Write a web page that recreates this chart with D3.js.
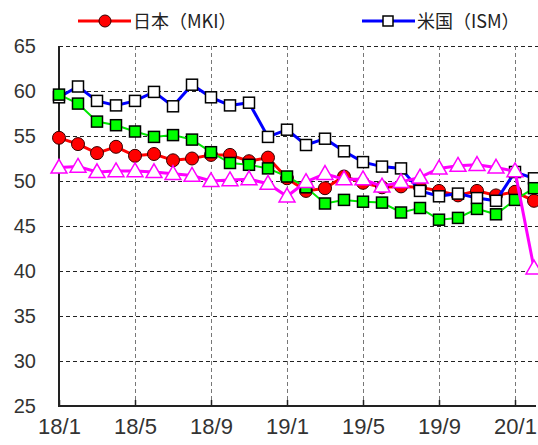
<!DOCTYPE html>
<html>
<head>
<meta charset="utf-8">
<script src="https://cdn.jsdelivr.net/npm/d3@7"></script>
<style>
  body { margin: 0; background: #fff; overflow: hidden; }
</style>
</head>
<body>
<div id="canvas"></div>
<script>
"use strict"

/* Data: monthly manufacturing PMI, 2018/1 - 2020/2 */
let months = ["18/1","18/2","18/3","18/4","18/5","18/6","18/7","18/8","18/9","18/10","18/11","18/12",
              "19/1","19/2","19/3","19/4","19/5","19/6","19/7","19/8","19/9","19/10","19/11","19/12",
              "20/1","20/2"];
let japan = [54.8,54.1,53.1,53.8,52.8,53.0,52.3,52.5,52.9,52.9,52.2,52.6,
             50.3,48.9,49.2,50.5,49.8,49.3,49.4,49.3,48.9,48.4,48.9,48.4,48.8,47.8];
let usa = [59.3,60.5,58.9,58.4,58.9,59.9,58.3,60.7,59.3,58.4,58.7,54.9,
           55.7,54.0,54.7,53.3,52.1,51.6,51.4,48.9,48.3,48.6,48.1,47.8,51.0,50.3];
let euro = [59.6,58.6,56.6,56.2,55.5,54.9,55.1,54.6,53.2,52.0,51.8,51.4,
            50.5,49.3,47.5,47.9,47.7,47.6,46.5,47.0,45.7,45.9,46.9,46.3,47.9,49.2];
let china = [51.5,51.6,51.0,51.1,51.1,51.0,50.8,50.6,50.0,50.1,50.2,49.7,
             48.3,49.9,50.8,50.2,50.2,49.4,49.9,50.4,51.4,51.7,51.8,51.5,51.1,40.3];
let xTickLabels = ["18/1","18/5","18/9","19/1","19/5","19/9","20/1"];
let yTicks = [25,30,35,40,45,50,55,60,65];
let legendNames = ["日本（MKI）", "米国（ISM）"];

/* Configuration variables: drawing */
let svgWidth = 538;
let svgHeight = 445;
let plot = { left: 59, right: 540, top: 46, bottom: 406 };

let svg = d3.select("#canvas")
    .append("svg")
    .attr("width", svgWidth)
    .attr("height", svgHeight);

svg.append("rect")
    .attr("width", svgWidth)
    .attr("height", svgHeight)
    .attr("fill", "white");

// scales: one step of 19px per month
let xScale = d3.scaleLinear()
    .domain([0, 25])
    .range([59, 534]);
let yScale = d3.scaleLinear()
    .domain([25, 65])
    .range([plot.bottom, plot.top]);

/* Gridlines */
// horizontal (30..65), black dashes
svg.append("g")
    .selectAll("line")
    .data(yTicks.filter(function(d) { return d > 25; }))
    .join("line")
    .attr("x1", plot.left)
    .attr("x2", plot.right)
    .attr("y1", function(d) { return yScale(d) + 0.5; })
    .attr("y2", function(d) { return yScale(d) + 0.5; })
    .attr("stroke", "#222")
    .attr("stroke-width", 1)
    .attr("stroke-dasharray", "4,3");

// vertical, grey dashes
svg.append("g")
    .selectAll("line")
    .data(xTickLabels.slice(1))
    .join("line")
    .attr("x1", function(d) { return xScale(months.indexOf(d)) + 0.5; })
    .attr("x2", function(d) { return xScale(months.indexOf(d)) + 0.5; })
    .attr("y1", plot.top)
    .attr("y2", plot.bottom)
    .attr("stroke", "#777")
    .attr("stroke-width", 1)
    .attr("stroke-dasharray", "4,3");

/* Axes */
let yAxis = d3.axisLeft(yScale)
    .tickValues(yTicks)
    .tickSize(0)
    .tickPadding(23)
    .tickFormat(d3.format("d"));
let gy = svg.append("g")
    .attr("transform", "translate(" + plot.left + ",0)")
    .call(yAxis);
gy.select(".domain").remove();
gy.selectAll("text")
    .style("font-family", "'Liberation Sans', Arial, sans-serif")
    .style("font-size", "20px")
    .attr("fill", "#333");

let xAxis = d3.axisBottom(xScale)
    .tickValues(xTickLabels.map(function(d) { return months.indexOf(d); }))
    .tickSize(-6)
    .tickPadding(12)
    .tickFormat(function(i) { return months[i]; });
let gx = svg.append("g")
    .attr("transform", "translate(0," + plot.bottom + ")")
    .call(xAxis);
gx.select(".domain").remove();
gx.selectAll("line").attr("stroke", "#222").attr("stroke-width", 1.5);
gx.selectAll("text")
    .style("font-family", "'Liberation Sans', Arial, sans-serif")
    .style("font-size", "22px")
    .attr("fill", "#333");

// axis lines
svg.append("line")
    .attr("x1", plot.left).attr("x2", plot.left)
    .attr("y1", plot.top).attr("y2", plot.bottom + 1)
    .attr("stroke", "#222").attr("stroke-width", 2);
svg.append("line")
    .attr("x1", plot.left).attr("x2", 536)
    .attr("y1", plot.bottom).attr("y2", plot.bottom)
    .attr("stroke", "#222").attr("stroke-width", 2);

/* Series */
let line = d3.line()
    .x(function(d, i) { return xScale(i); })
    .y(function(d) { return yScale(d); });

let triangle = d3.symbol().type(d3.symbolTriangle).size(110);

function drawSeries(values, color, width, marker, fill) {
    svg.append("path")
        .datum(values)
        .attr("d", line)
        .attr("fill", "none")
        .attr("stroke", color)
        .attr("stroke-width", width);

    let g = svg.append("g");
    if (marker === "circle") {
        g.selectAll("circle")
            .data(values)
            .join("circle")
            .attr("cx", function(d, i) { return xScale(i); })
            .attr("cy", function(d) { return yScale(d); })
            .attr("r", 6.5)
            .attr("fill", fill)
            .attr("stroke", "#300")
            .attr("stroke-width", 1);
    } else if (marker === "square") {
        g.selectAll("rect")
            .data(values)
            .join("rect")
            .attr("x", function(d, i) { return xScale(i) - 5.5; })
            .attr("y", function(d) { return yScale(d) - 5.5; })
            .attr("width", 11)
            .attr("height", 11)
            .attr("fill", fill)
            .attr("stroke", "black")
            .attr("stroke-width", 1.5);
    } else {
        g.selectAll("path")
            .data(values)
            .join("path")
            .attr("d", triangle)
            .attr("transform", function(d, i) {
                return "translate(" + xScale(i) + "," + (yScale(d) + 1) + ")";
            })
            .attr("fill", fill)
            .attr("stroke", color)
            .attr("stroke-width", 1.5);
    }
}

drawSeries(japan, "#ff0000", 3, "circle", "#ff0000");
drawSeries(usa, "#0000ff", 3, "square", "white");
drawSeries(euro, "#00e600", 2, "square", "#00ff00");
drawSeries(china, "#ff00ff", 3, "triangle", "white");

/* Legend */
let legendY = 21;
let legend = [
    { x: 78, color: "#ff0000", marker: "circle", name: legendNames[0] },
    { x: 362, color: "#0000ff", marker: "square", name: legendNames[1] }
];
legend.forEach(function(item) {
    svg.append("line")
        .attr("x1", item.x).attr("x2", item.x + 53)
        .attr("y1", legendY).attr("y2", legendY)
        .attr("stroke", item.color)
        .attr("stroke-width", 3);
    if (item.marker === "circle") {
        svg.append("circle")
            .attr("cx", item.x + 27).attr("cy", legendY)
            .attr("r", 6)
            .attr("fill", item.color)
            .attr("stroke", "#300");
    } else {
        svg.append("rect")
            .attr("x", item.x + 21).attr("y", legendY - 5)
            .attr("width", 10).attr("height", 10)
            .attr("fill", "white")
            .attr("stroke", "black")
            .attr("stroke-width", 1.5);
    }
    svg.append("text")
        .attr("x", item.x + 55)
        .attr("y", legendY + 7)
        .style("font-family", "'Noto Sans CJK JP', sans-serif")
        .style("font-size", "18px")
        .attr("fill", "#222")
        .text(item.name);
});
</script>
</body>
</html>
